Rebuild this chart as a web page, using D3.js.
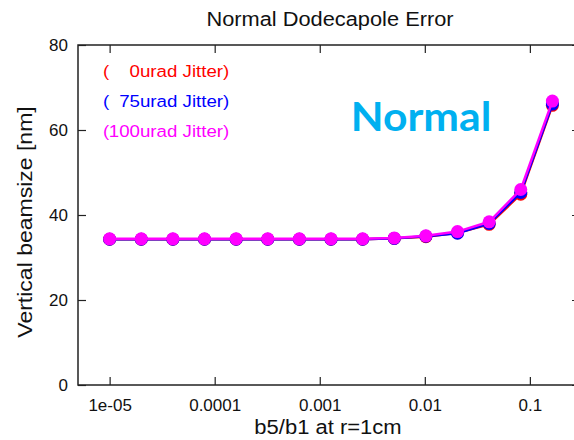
<!DOCTYPE html>
<html>
<head>
<meta charset="utf-8">
<script src="https://cdn.jsdelivr.net/npm/d3@7"></script>
<style>
  html, body { margin: 0; padding: 0; background: #fff; }
  svg { display: block; }
  text { font-family: "Liberation Sans", Arial, Helvetica, sans-serif; fill: #111; }
</style>
</head>
<body>
<svg id="chart" width="574" height="440"></svg>
<script>
// b5/b1 multipole strength sampled at r = 1 cm
const b5b1 = [1e-5, 2e-5, 4e-5, 8e-5, 1.6e-4, 3.2e-4, 6.4e-4, 1.28e-3, 2.56e-3, 5.12e-3, 1.024e-2, 2.048e-2, 4.096e-2, 8.192e-2, 0.16384];

// vertical beam size [nm] for each angular jitter level
const jitter0 = [34.3, 34.3, 34.3, 34.3, 34.3, 34.3, 34.3, 34.3, 34.3, 34.5, 34.9, 35.8, 37.8, 44.9, 65.8];
const jitter75 = [34.3, 34.3, 34.3, 34.3, 34.3, 34.3, 34.3, 34.3, 34.3, 34.5, 35.0, 35.7, 38.0, 45.3, 66.1];
const jitter100 = [34.4, 34.4, 34.4, 34.4, 34.4, 34.4, 34.4, 34.4, 34.4, 34.6, 35.1, 36.1, 38.4, 46.0, 66.8];

const jitterLevels = ["0", "75", "100"];
const seriesColors = ["#ff0000", "#0000ff", "#ff00ff"];

const xTickValues = [1e-5, 1e-4, 1e-3, 1e-2, 1e-1];
const xTickLabels = ["1e-05", "0.0001", "0.001", "0.01", "0.1"];
const yTickValues = [0, 20, 40, 60, 80];

const svg = d3.select("#chart");
const plotLeft = 78, plotRight = 580, plotTop = 45, plotBottom = 385;

const x = d3.scaleLog().domain([5e-6, 0.3]).range([plotLeft, plotRight]);
const y = d3.scaleLinear().domain([0, 80]).range([plotBottom, plotTop]);

// widen text horizontally by a factor while keeping its anchor
function stretch(sel, k) {
  sel.each(function () {
    const w = this.getComputedTextLength();
    d3.select(this).attr("textLength", w * k).attr("lengthAdjust", "spacingAndGlyphs");
  });
}

// axes with inward ticks on all four sides
const gx = svg.append("g").attr("transform", `translate(0,${plotBottom})`)
  .call(d3.axisBottom(x).tickValues(xTickValues)
    .tickFormat((d, i) => xTickLabels[i]).tickSizeInner(-8).tickSizeOuter(0).tickPadding(14));
const gy = svg.append("g").attr("transform", `translate(${plotLeft},0)`)
  .call(d3.axisLeft(y).tickValues(yTickValues).tickSizeInner(-8).tickSizeOuter(0).tickPadding(10));
const gt = svg.append("g").attr("transform", `translate(0,${plotTop})`)
  .call(d3.axisTop(x).tickValues(xTickValues).tickFormat("").tickSizeInner(-8).tickSizeOuter(0));
const gr = svg.append("g").attr("transform", `translate(${plotRight},0)`)
  .call(d3.axisRight(y).tickValues(yTickValues).tickFormat("").tickSizeInner(-8).tickSizeOuter(0));

[gx, gy, gt, gr].forEach(g => {
  g.select(".domain").remove();
  g.selectAll(".tick line").attr("stroke", "#222").attr("stroke-width", 1.2);
  g.selectAll(".tick text").attr("font-size", 17).attr("fill", "#111")
    .style("font-family", "'Liberation Sans', Arial, sans-serif");
});
gx.selectAll(".tick text").attr("dy", "0.71em");

// plot frame
svg.append("rect")
  .attr("x", plotLeft).attr("y", plotTop)
  .attr("width", plotRight - plotLeft).attr("height", plotBottom - plotTop)
  .attr("fill", "none").attr("stroke", "#222").attr("stroke-width", 1.5);

// data series: line plus filled circles, 100 urad drawn last
const allSeries = [jitter0, jitter75, jitter100];
const line = d3.line().x((d, i) => x(b5b1[i])).y(d => y(d));

allSeries.forEach((vals, s) => {
  const g = svg.append("g");
  g.append("path").datum(vals)
    .attr("d", line)
    .attr("fill", "none")
    .attr("stroke", seriesColors[s])
    .attr("stroke-width", 2.5);
  g.selectAll("circle").data(vals).join("circle")
    .attr("cx", (d, i) => x(b5b1[i]))
    .attr("cy", d => y(d))
    .attr("r", 6.5)
    .attr("fill", seriesColors[s]);
});

// legend entries (text only)
jitterLevels.forEach((lvl, i) => {
  const g = svg.append("g")
    .attr("transform", `translate(103,${77 + i * 30}) scale(1.1,1)`);
  g.append("text").attr("x", 0).attr("font-size", 17).style("fill", seriesColors[i]).text("(");
  g.append("text").attr("x", 33.6).attr("text-anchor", "end").attr("font-size", 17)
    .style("fill", seriesColors[i]).text(lvl);
  g.append("text").attr("x", 33.6).attr("font-size", 17)
    .style("fill", seriesColors[i]).text("urad Jitter)");
});

// titles
svg.append("text")
  .attr("x", 330).attr("y", 26).attr("text-anchor", "middle")
  .attr("font-size", 20).text("Normal Dodecapole Error")
  .call(stretch, 1.09);

svg.append("text")
  .attr("x", 328).attr("y", 434).attr("text-anchor", "middle")
  .attr("font-size", 20).text("b5/b1 at r=1cm")
  .call(stretch, 1.1);

svg.append("text")
  .attr("transform", "translate(32,222) rotate(-90)")
  .attr("text-anchor", "middle")
  .attr("font-size", 20).text("Vertical beamsize [nm]")
  .call(stretch, 1.15);

svg.append("text")
  .attr("x", 421).attr("y", 131).attr("text-anchor", "middle")
  .attr("font-size", 41).attr("font-weight", "bold")
  .style("font-family", "Lato, 'Open Sans', sans-serif")
  .style("fill", "#00b0f0")
  .text("Normal")
  .call(stretch, 1.04);
</script>
</body>
</html>
